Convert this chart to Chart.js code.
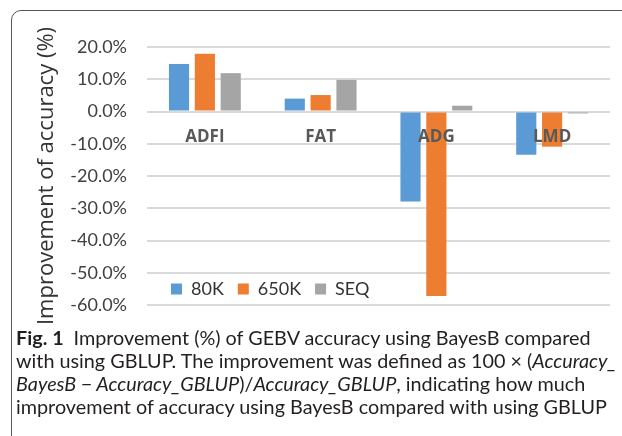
<!DOCTYPE html>
<html>
<head>
<meta charset="utf-8">
<script src="https://cdn.jsdelivr.net/npm/chart.js@4/dist/chart.umd.min.js"></script>
<style>
  html, body { margin: 0; padding: 0; background: #fff; }
  #wrap { position: relative; width: 622px; height: 436px; overflow: hidden; }
  #frame {
    position: absolute; left: 11px; top: 10px; width: 660px; height: 480px;
    border: 1.5px solid #555; border-radius: 10px; box-sizing: border-box;
  }
  #mainchart { position: absolute; left: 0; top: 0; }
  #caption {
    position: absolute; left: 16px; top: 326px;
    font-family: Lato, sans-serif; font-size: 19.8px; line-height: 23px;
    color: #231f20; white-space: nowrap;
  }
  #caption b { font-weight: 700; }
</style>
</head>
<body>
<div id="wrap">
  <div id="frame"></div>
  <canvas id="mainchart" width="622" height="347"></canvas>
  <div id="caption">
    <div><b>Fig. 1</b>&ensp;Improvement (%) of GEBV accuracy using BayesB compared</div>
    <div>with using GBLUP. The improvement was defined as 100 × (<i>Accuracy_</i></div>
    <div><i>BayesB − Accuracy_GBLUP</i>)/<i>Accuracy_GBLUP</i>, indicating how much</div>
    <div>improvement of accuracy using BayesB compared with using GBLUP</div>
  </div>
</div>
<script>
const ctx = document.getElementById('mainchart');

// traits on the x axis
const traits = ['ADFI', 'FAT', 'ADG', 'LMD'];

// improvement (%) per panel
const s80k  = [14.7, 4.0, -27.9, -13.4];
const s650k = [17.9, 5.1, -57.2, -10.9];
const sSeq  = [11.9, 9.8, 1.8, -0.6];

const seriesNames = ['80K', '650K', 'SEQ'];
const seriesColors = ['#5b9bd5', '#ed7d31', '#a5a5a5'];

// y ticks: -60% .. 20%
const yMin = -60;
const yMax = 20;
const yStep = 10;

/* legend sits inside the plot, near the bottom-left corner */
const legendMover = {
  id: 'legendMover',
  afterLayout(chart) {
    const lg = chart.legend;
    lg.left = 157;
    lg.right = lg.left + lg.width;
    lg.top = 266;
    lg.bottom = lg.top + lg.height;
  }
};

const datasets = [s80k, s650k, sSeq].map((vals, i) => ({
  label: seriesNames[i],
  data: vals,
  backgroundColor: seriesColors[i],
  borderWidth: 0,
  categoryPercentage: 0.67,
  barPercentage: 0.78
}));

const config = {
  type: 'bar',
  data: { labels: traits, datasets: datasets },
  options: {
    responsive: false,
    animation: false,
    layout: { padding: { left: 0, right: 12, top: 47, bottom: 0 } },
    plugins: {
      tooltip: { enabled: false },
      legend: {
        position: 'bottom',
        align: 'start',
        labels: {
          boxWidth: 11,
          boxHeight: 11,
          padding: 14,
          color: '#333',
          font: { family: 'Lato', size: 18 }
        }
      }
    },
    scales: {
      x: {
        type: 'category',
        position: { y: 0 },
        grid: { display: false, drawTicks: false },
        border: { display: false },
        ticks: {
          z: 1,
          padding: 15,
          maxRotation: 0,
          autoSkip: false,
          color: '#595959',
          font: { family: "'Open Sans', 'Liberation Sans', sans-serif", size: 17, weight: 'bold' }
        }
      },
      y: {
        min: yMin,
        max: yMax,
        afterFit(scale) { scale.width = 147; },
        grid: { color: '#dadada', lineWidth: 2, drawTicks: false },
        border: { display: false },
        ticks: {
          stepSize: yStep,
          padding: 20,
          color: '#404040',
          font: { family: 'Lato', size: 18 },
          callback: (v) => v.toFixed(1) + '%'
        },
        title: {
          display: true,
          text: 'Improvement of accuracy (%)',
          color: '#333',
          font: { family: 'Open Sans', size: 22 },
          padding: { top: 34, bottom: 0 }
        }
      }
    }
  },
  plugins: [legendMover]
};

new Chart(ctx, config);
</script>
</body>
</html>
